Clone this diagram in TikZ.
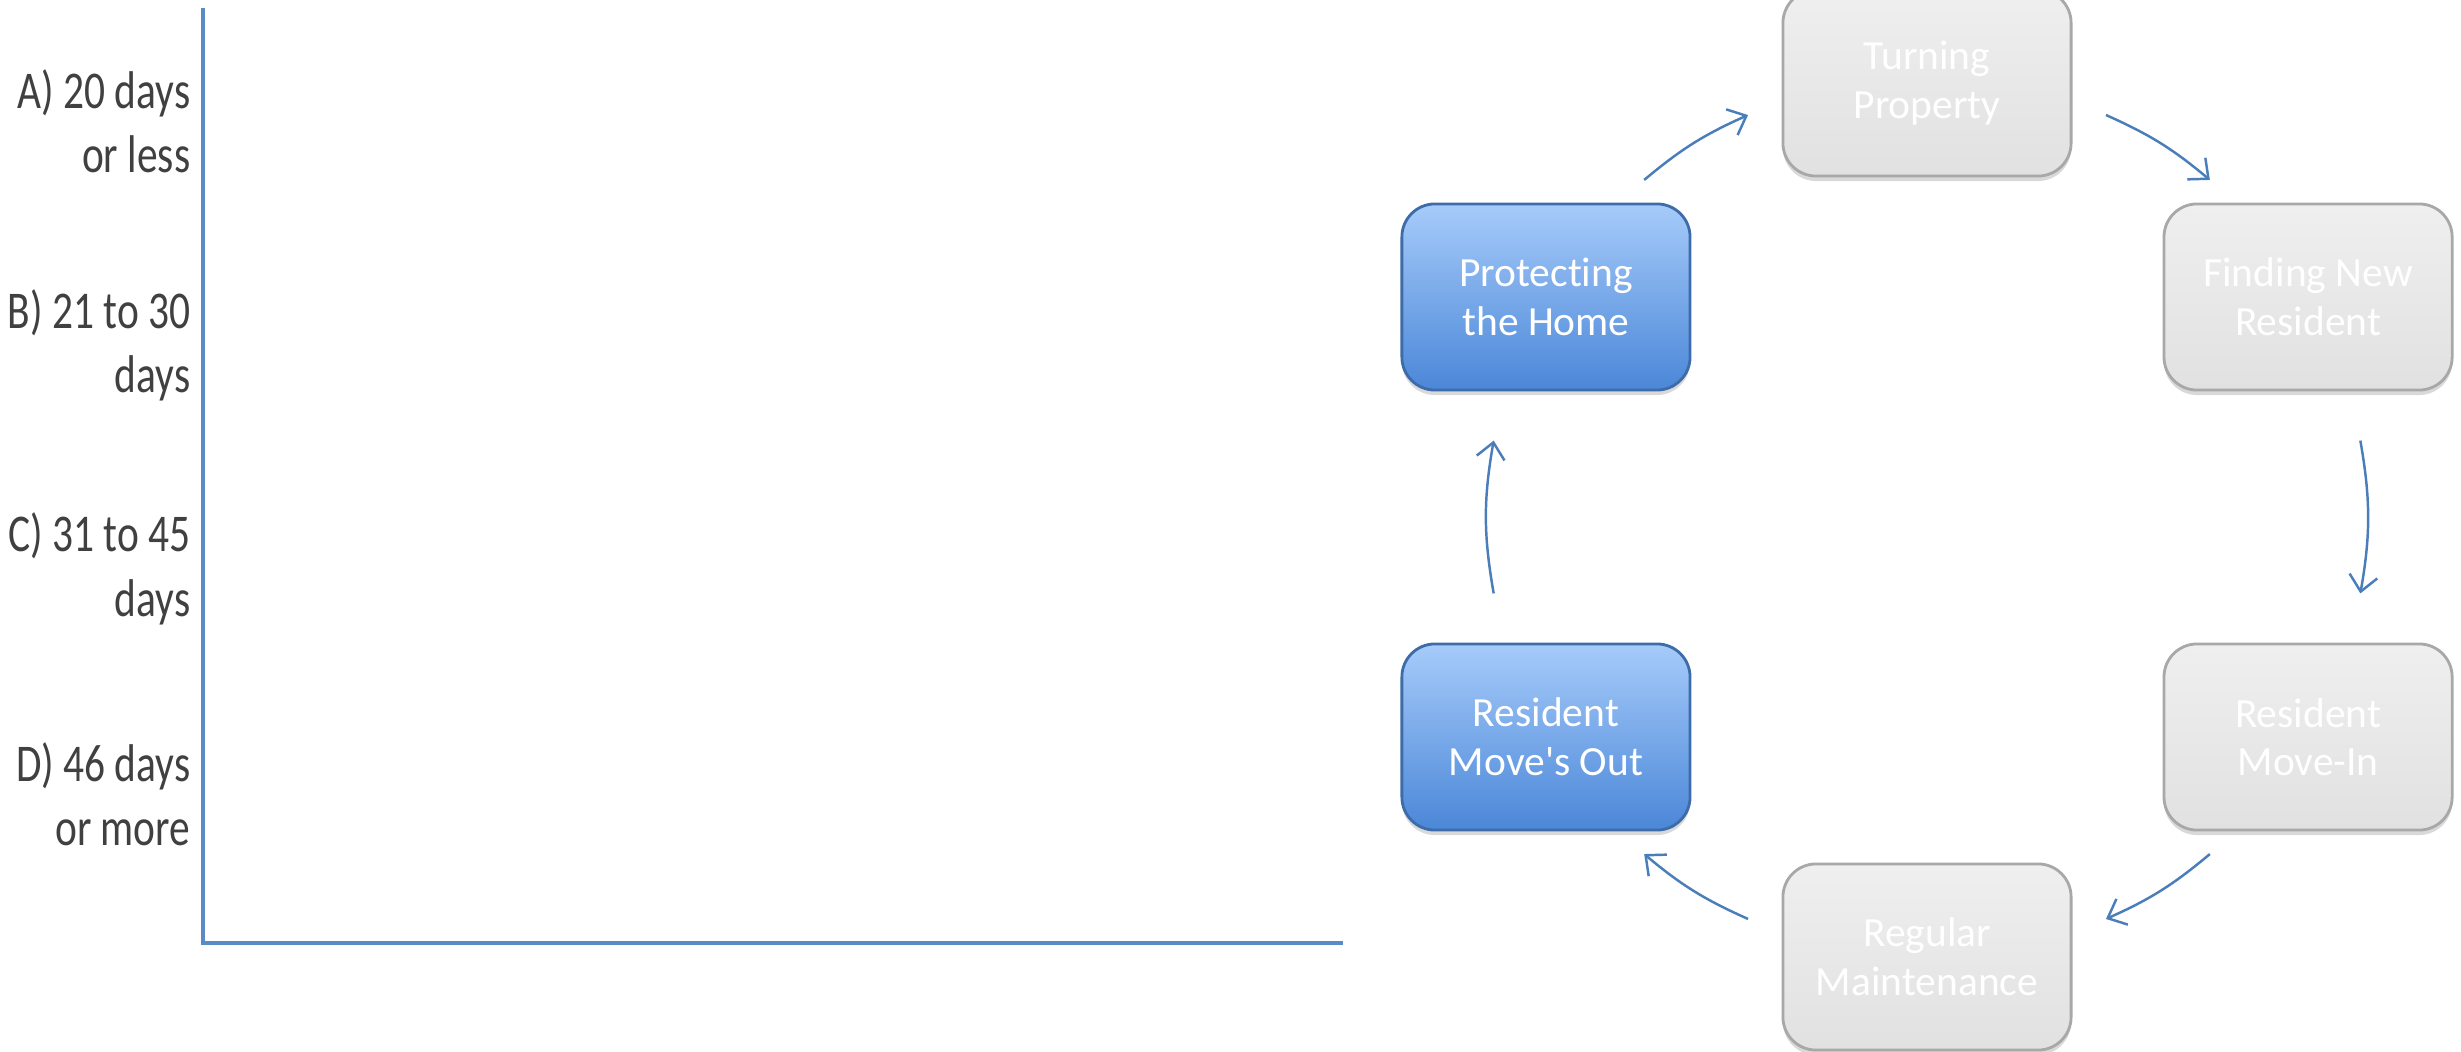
\documentclass[tikz,border=0pt]{standalone}
\usepackage{fontspec}
\setmainfont[Ligatures=NoCommon]{Carlito}
\newfontfamily\narrowfont[FakeStretch=0.78]{Carlito}
\usepackage{tikz}
\usetikzlibrary{positioning, calc, shapes, arrows.meta, shadows}
\definecolor{linkblue}{HTML}{4A7EBB}
\definecolor{axisblue}{HTML}{5B8BC6}
\definecolor{textgray}{HTML}{404040}
\definecolor{donetop}{HTML}{A6CBFA}
\definecolor{donemid}{HTML}{84AEEC}
\definecolor{donebot}{HTML}{4B87D8}
\definecolor{doneedge}{HTML}{3D6CA8}
\definecolor{todotop}{HTML}{EFEFEF}
\definecolor{todobot}{HTML}{E1E1E1}
\definecolor{todoedge}{HTML}{A8A8A8}
\newcommand{\straightquote}{\XeTeXglyph\XeTeXcharglyph"0027\relax}
\tikzstyle{Arrow} = [
linkblue,
line width=0.7pt,
-{Straight Barb[length=4.5pt, width=8pt]}]
\tikzstyle{Stage} = [
rectangle, rounded corners=0.33cm,
minimum width=2.88cm, minimum height=1.86cm,
align=center, text=white, line width=0.8pt,
font=\fontsize{11.8}{13.8}\selectfont,
drop shadow={shadow xshift=0pt, shadow yshift=-0.05cm, opacity=0.3}]
\tikzstyle{Done} = [Stage, draw=doneedge, top color=donetop, middle color=donemid, bottom color=donebot]
\tikzstyle{Todo} = [Stage, draw=todoedge, top color=todotop, bottom color=todobot]
\tikzstyle{Label} = [
anchor=base east, align=right, inner sep=0pt, text=textgray,
font=\narrowfont\fontsize{15.1}{18.2}\selectfont]
\tikzstyle{Axis} = [axisblue, line width=0.9pt]

\begin{document}
\begin{tikzpicture}[x=0.01cm, y=0.01cm]
    \useasboundingbox (0,0) rectangle (2461,1051);
    % left chart
    \coordinate (top) at (203,1043);
    \coordinate (origin) at (203,108);
    \coordinate (end) at (1343,108);
    \draw[Axis] (top) -- (origin) -- (end);
    \node[Label] (a) at (191,878) {A) 20 days\\or less};
    \node[Label] (b) at (191,658) {B) 21 to 30\\days};
    \node[Label] (c) at (191,435) {C) 31 to 45\\days};
    \node[Label] (d) at (191,206) {D) 46 days\\or more};
    % cycle
    \coordinate (0) at (1927,534);
    \node[Done] (1) at ($(0)+(150:440)$) {Protecting\\the Home};
    \node[Todo] (2) at ($(0)+(90:434)$) {Turning\\Property};
    \node[Todo] (3) at ($(0)+(30:440)$) {Finding New\\Resident};
    \node[Todo] (4) at ($(0)+(-30:440)$) {Resident\\Move-In};
    \node[Todo] (5) at ($(0)+(-90:440)$) {Regular\\Maintenance};
    \node[Done] (6) at ($(0)+(210:440)$) {Resident\\Move\straightquote s Out};
    \foreach \a/\b/\h [count=\i] in {130/114/8, 66/50/8, 10/-10/10, -50/-66/8, -114/-130/8, 190/170/10} {
        \coordinate (s\i) at ($(0)+(\a:440)$);
        \coordinate (e\i) at ($(0)+(\b:440)$);
        \draw[Arrow] (s\i) to[bend left=\h] (e\i);
    }
\end{tikzpicture}
\end{document}
